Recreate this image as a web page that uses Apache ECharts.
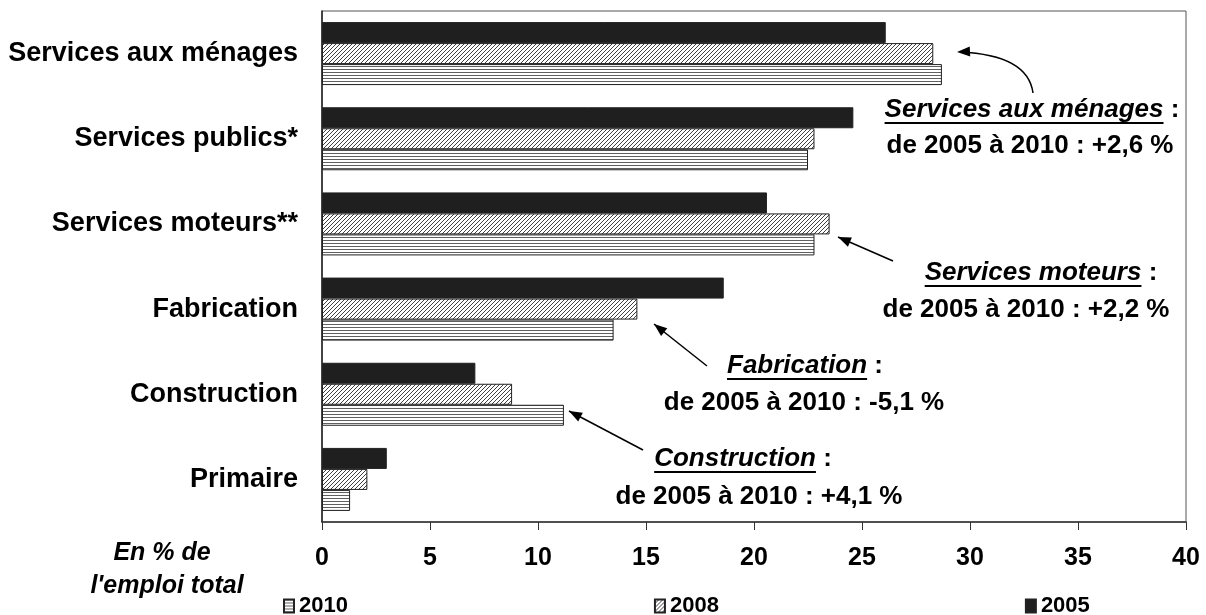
<!DOCTYPE html>
<html>
<head>
<meta charset="utf-8">
<title>Emploi par secteur</title>
<script src="https://cdn.jsdelivr.net/npm/echarts@6/dist/echarts.min.js"></script>
<style>
  html, body { margin: 0; padding: 0; background: #fff; }
  #chart { width: 1206px; height: 615px; }
</style>
</head>
<body>
<div id="chart"></div>
<script>
// secteurs, du bas vers le haut
const categories = ['Primaire', 'Construction', 'Fabrication', 'Services moteurs**', 'Services publics*', 'Services aux ménages']
const values2010 = [1.3, 11.2, 13.5, 22.8, 22.5, 28.7]
const values2008 = [2.1, 8.8, 14.6, 23.5, 22.8, 28.3]
const values2005 = [3.0, 7.1, 18.6, 20.6, 24.6, 26.1]
const xTicks = { min: 0, max: 40, interval: 5 }

// annotations : [nom, variation]
const notes = [
  ['Services aux ménages', 'de 2005 à 2010 : +2,6 %'],
  ['Services moteurs', 'de 2005 à 2010 : +2,2 %'],
  ['Fabrication', 'de 2005 à 2010 : -5,1 %'],
  ['Construction', 'de 2005 à 2010 : +4,1 %']
]

const FONT = '"Liberation Sans", Arial, sans-serif'

// motifs de remplissage
function stripes() {
  const c = document.createElement('canvas')
  c.width = 4; c.height = 3
  const g = c.getContext('2d')
  g.fillStyle = '#fff'; g.fillRect(0, 0, 4, 3)
  g.fillStyle = '#606060'; g.fillRect(0, 0, 4, 1)
  return c
}
function hatch() {
  const c = document.createElement('canvas')
  c.width = 4; c.height = 4
  const g = c.getContext('2d')
  g.fillStyle = '#fff'; g.fillRect(0, 0, 4, 4)
  g.strokeStyle = '#404040'; g.lineWidth = 1
  g.beginPath()
  g.moveTo(-1, 5); g.lineTo(5, -1)
  g.moveTo(-1, 1); g.lineTo(1, -1)
  g.moveTo(3, 5); g.lineTo(5, 3)
  g.stroke()
  return c
}

const measure = document.createElement('canvas').getContext('2d')
function textWidth(txt, font) {
  measure.font = font
  return measure.measureText(txt).width
}

// positions des annotations (centre ligne 1, y ligne 1, centre ligne 2, y ligne 2)
const notePos = [
  [1032, 110, 1030, 146],
  [1041, 273, 1026, 310],
  [805, 366, 804, 403],
  [743, 459, 759, 497]
]

const graphics = []
notes.forEach((n, i) => {
  const [cx1, y1, cx2, y2] = notePos[i]
  const nameFont = 'italic bold 26px ' + FONT
  const boldFont = 'bold 26px ' + FONT
  const wName = textWidth(n[0], nameFont)
  const wColon = textWidth(' :', boldFont)
  const left = cx1 - (wName + wColon) / 2
  graphics.push({
    type: 'text', x: left, y: y1,
    style: { text: n[0], font: nameFont, fill: '#000', verticalAlign: 'middle' }
  })
  graphics.push({
    type: 'text', x: left + wName, y: y1,
    style: { text: ' :', font: boldFont, fill: '#000', verticalAlign: 'middle' }
  })
  graphics.push({
    type: 'line', shape: { x1: left, y1: y1 + 13, x2: left + wName, y2: y1 + 13 },
    style: { stroke: '#000', lineWidth: 2 }
  })
  graphics.push({
    type: 'text', x: cx2, y: y2,
    style: { text: n[1], font: boldFont, fill: '#000', align: 'center', verticalAlign: 'middle' }
  })
})

function head(x1, y1, x2, y2) {
  const a = Math.atan2(y2 - y1, x2 - x1)
  const L = 13, W = 5
  const bx = x2 - L * Math.cos(a), by = y2 - L * Math.sin(a)
  return {
    type: 'polygon',
    shape: { points: [[x2, y2], [bx + W * Math.sin(a), by - W * Math.cos(a)], [bx - W * Math.sin(a), by + W * Math.cos(a)]] },
    style: { fill: '#000' }
  }
}
function arrow(x1, y1, x2, y2) {
  graphics.push({ type: 'line', shape: { x1, y1, x2, y2 }, style: { stroke: '#000', lineWidth: 1.5 } })
  graphics.push(head(x1, y1, x2, y2))
}
// flèche courbe
graphics.push({
  type: 'bezierCurve',
  shape: { x1: 1033, y1: 93, cpx1: 1028, cpy1: 55, x2: 960, y2: 52 },
  style: { stroke: '#000', lineWidth: 1.5, fill: null }
})
graphics.push(head(1000, 50, 957, 52))
arrow(893, 261, 838, 237)
arrow(707, 366, 654, 324)
arrow(643, 450, 569, 411)

// "En % de l'emploi total"
graphics.push({
  type: 'text', x: 162, y: 553,
  style: { text: 'En % de', font: 'italic bold 25px ' + FONT, fill: '#000', align: 'center', verticalAlign: 'middle' }
})
graphics.push({
  type: 'text', x: 167, y: 586,
  style: { text: "l'emploi total", font: 'italic bold 25px ' + FONT, fill: '#000', align: 'center', verticalAlign: 'middle' }
})

const chart = echarts.init(document.getElementById('chart'))
const barBorder = { borderColor: '#222', borderWidth: 1 }

chart.setOption({
  animation: false,
  textStyle: { fontFamily: FONT },
  grid: { left: 322, right: 20, top: 11, bottom: 93, show: true, borderColor: '#555', borderWidth: 1 },
  legend: {
    data: ['2010', '2008', '2005'],
    left: 278, top: 590,
    itemWidth: 10, itemHeight: 13, itemGap: 306,
    icon: 'rect',
    textStyle: { fontSize: 22, fontWeight: 'bold', color: '#000', fontFamily: FONT }
  },
  xAxis: {
    type: 'value',
    min: xTicks.min, max: xTicks.max, interval: xTicks.interval,
    axisLine: { show: true, lineStyle: { color: '#333', width: 1.5 } },
    axisTick: { show: true, length: 8, lineStyle: { color: '#333' } },
    splitLine: { show: false },
    axisLabel: { fontSize: 25, fontWeight: 'bold', color: '#000', margin: 24 }
  },
  yAxis: {
    type: 'category',
    data: categories,
    axisLine: { show: true, lineStyle: { color: '#222', width: 1.5 } },
    axisTick: { show: false },
    axisLabel: { fontSize: 27, fontWeight: 'bold', color: '#000', margin: 24 }
  },
  series: [
    { name: '2005', type: 'bar', data: values2005, barWidth: 21, barGap: '0%',
      itemStyle: Object.assign({ color: '#1f1f1f' }, barBorder) },
    { name: '2008', type: 'bar', data: values2008, barWidth: 21, barGap: '0%',
      itemStyle: Object.assign({ color: { image: hatch(), repeat: 'repeat' } }, barBorder) },
    { name: '2010', type: 'bar', data: values2010, barWidth: 21, barGap: '0%',
      itemStyle: Object.assign({ color: { image: stripes(), repeat: 'repeat' } }, barBorder) }
  ],
  graphic: graphics
})
</script>
</body>
</html>
